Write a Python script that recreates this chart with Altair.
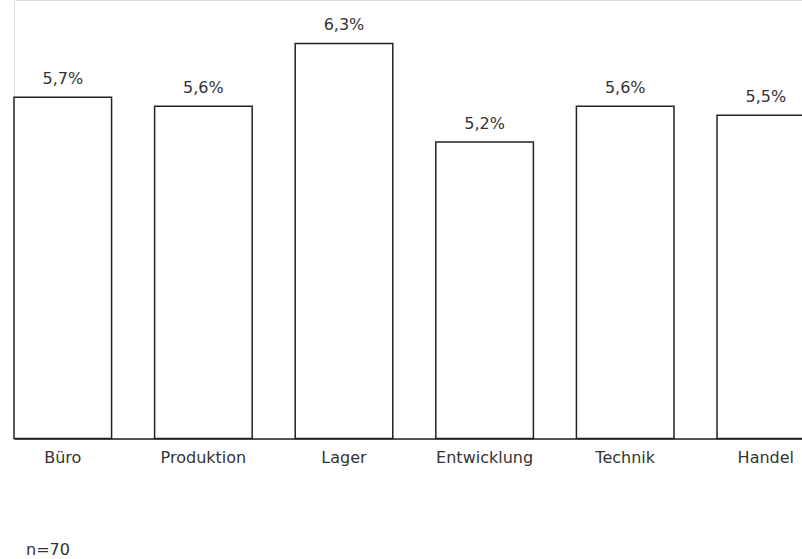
import altair as alt
import pandas as pd

categories = ["Büro", "Produktion", "Lager", "Entwicklung", "Technik", "Handel"]
values = [5.7, 5.6, 6.3, 5.2, 5.6, 5.5]
note = "n=70"

df = pd.DataFrame({
    "cat": categories,
    "val": values,
    "label": [f"{v:.1f}".replace(".", ",") + "%" for v in values],
})

FONT = "DejaVu Sans"
TEXT = "#333"
Y_MIN = 1.887

x_enc = alt.X(
    "cat:N", sort=None, title=None,
    scale=alt.Scale(range=[0, 800.6], paddingInner=0.306, paddingOuter=0),
    axis=alt.Axis(
        labelAngle=0, ticks=False, tickSize=0, labelPadding=10.5,
        domainColor="#222", domainWidth=1.5, labelFont=FONT, labelFontSize=16,
        labelColor=TEXT, grid=False, zindex=1,
    ),
)
y_scale = alt.Scale(domain=[Y_MIN, 6.787], nice=False, zero=False)

bars = alt.Chart(df).mark_bar(
    fill="white", stroke="#222", strokeWidth=1.5
).encode(
    x=x_enc,
    y=alt.Y("val:Q", scale=y_scale, axis=None),
    y2=alt.datum(Y_MIN),
)

labels = alt.Chart(df).mark_text(
    baseline="alphabetic", dy=-13.5, font=FONT, fontSize=16, color=TEXT
).encode(
    x=alt.X("cat:N", sort=None),
    y=alt.Y("val:Q", scale=y_scale),
    text="label:N",
)

note_df = pd.DataFrame({"t": [note]})
note_mark = alt.Chart(note_df).mark_text(
    align="left", baseline="alphabetic", font=FONT, fontSize=16, color=TEXT
).encode(
    x=alt.value(12), y=alt.value(555), text="t:N"
)

chart = alt.layer(bars, labels, note_mark).properties(
    width=788, height=438.5,
    padding={"left": 14, "top": 0, "right": 0, "bottom": 120.5},
    autosize=alt.AutoSizeParams(type="none"),
).configure_view(stroke=None).configure(background="white")

chart.save("out.html", embed_options={"renderer": "svg", "actions": False})
